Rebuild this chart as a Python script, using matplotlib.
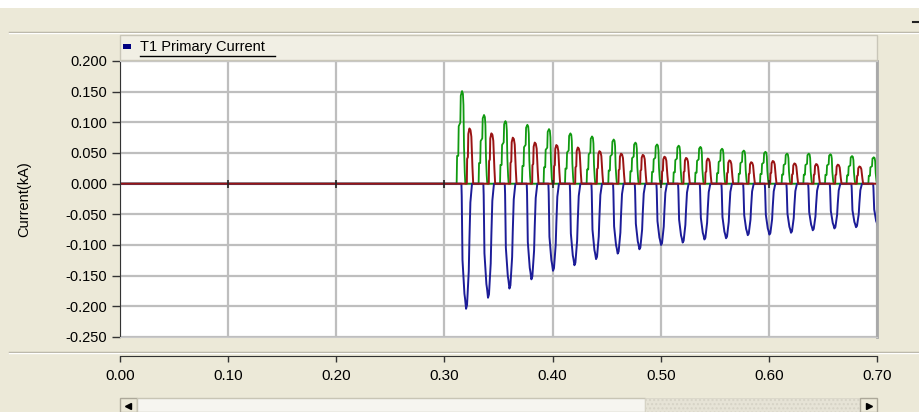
import matplotlib
matplotlib.use('Agg')
import matplotlib.pyplot as plt
import numpy as np
from matplotlib.patches import Rectangle
from matplotlib.lines import Line2D

# ================= data =================
# time of the green (phase A) peak in each cycle after energising (s)
CYCLE_T = [0.3163, 0.3366, 0.3564, 0.3767, 0.3967, 0.4165, 0.4365, 0.4565, 0.4766, 0.4966,
           0.5166, 0.5367, 0.5567, 0.5768, 0.5968, 0.6168, 0.6369, 0.6569, 0.6769, 0.6970]

# peak current per cycle (kA)
GREEN_PEAK = [0.151, 0.112, 0.102, 0.096, 0.089, 0.082, 0.077, 0.072, 0.067, 0.064,
              0.062, 0.060, 0.057, 0.054, 0.052, 0.049, 0.049, 0.048, 0.045, 0.043]
RED_PEAK = [0.090, 0.082, 0.075, 0.067, 0.063, 0.059, 0.053, 0.049, 0.047, 0.044,
            0.042, 0.041, 0.038, 0.035, 0.037, 0.033, 0.032, 0.031, 0.028, 0.027]
BLUE_PEAK = [-0.204, -0.186, -0.171, -0.156, -0.142, -0.133, -0.123, -0.114, -0.107, -0.100,
             -0.096, -0.091, -0.089, -0.084, -0.083, -0.080, -0.076, -0.073, -0.071, -0.069]

# pulse shape of one cycle: offset from green peak (ms) and normalised height
GREEN_DT = [-5.0, -4.6, -3.5, -3.1, -1.6, -1.2, 0.0, 0.8, 1.3, 1.8, 2.5, 3.0]
GREEN_SHAPE = [0, 0.30, 0.30, 0.62, 0.66, 0.95, 1.0, 0.97, 0.85, 0.40, 0.12, 0]
BLUE_DT = [-0.6, -0.3, 0.0, 0.4, 2.2, 2.8, 3.7, 4.6, 6.2, 6.8, 7.7, 9.2]
BLUE_SHAPE = [0, 0.10, 0.30, 0.61, 0.88, 0.92, 1.0, 0.97, 0.70, 0.45, 0.15, 0]
RED_DT = [4.4, 4.7, 5.4, 5.8, 6.8, 7.8, 8.6, 9.2, 9.6, 10.3]
RED_SHAPE = [0, 0.45, 0.48, 0.90, 1.0, 0.97, 0.85, 0.50, 0.30, 0]

XTICKS = [0.0, 0.1, 0.2, 0.3, 0.4, 0.5, 0.6, 0.7]
YTICKS = [0.2, 0.15, 0.1, 0.05, 0.0, -0.05, -0.1, -0.15, -0.2, -0.25]
TITLE = 'T1 Primary Current'
# =============================================================

W, H = 920, 412
BG = '#ECE9D8'


def fx(px):
    return px / W


def fy(py):
    return 1 - py / H


def build_trace(peaks, dt, shape):
    t = [0.0]
    v = [0.0]
    for tc, pk in zip(CYCLE_T, peaks):
        for d, s in zip(dt, shape):
            t.append(tc + d / 1000.0)
            v.append(pk * s)
    t.append(0.75)
    v.append(0.0)
    return np.array(t), np.array(v)


fig = plt.figure(figsize=(W / 100, H / 100), dpi=100, facecolor=BG)

# window chrome
fig.patches.append(Rectangle((0, fy(8)), 1, 8 / H, transform=fig.transFigure,
                             facecolor='white', edgecolor='none'))
fig.lines.append(Line2D([fx(9), 1], [fy(32), fy(32)], transform=fig.transFigure,
                        color='#ACA899', lw=1))
fig.lines.append(Line2D([fx(9), 1], [fy(33), fy(33)], transform=fig.transFigure,
                        color='white', lw=1))
fig.lines.append(Line2D([fx(913), 1], [fy(22), fy(22)], transform=fig.transFigure,
                        color='#222222', lw=1.5))
fig.lines.append(Line2D([fx(9), 1], [fy(352), fy(352)], transform=fig.transFigure,
                        color='#ACA899', lw=1))
fig.lines.append(Line2D([fx(9), 1], [fy(353), fy(353)], transform=fig.transFigure,
                        color='white', lw=1))

# legend bar
fig.patches.append(Rectangle((fx(120), fy(60)), fx(757), 25 / H, transform=fig.transFigure,
                             facecolor='#F1EFE4', edgecolor='#C9C6B8', lw=1))
fig.patches.append(Rectangle((fx(123), fy(49)), fx(8), 5 / H, transform=fig.transFigure,
                             facecolor='#000080', edgecolor='none'))
fig.text(fx(140), fy(47), TITLE, fontsize=10.5, family='Liberation Sans',
         va='center', ha='left', color='black')
fig.lines.append(Line2D([fx(140), fx(275)], [fy(56), fy(56)], transform=fig.transFigure,
                        color='black', lw=1))

# plot area
ax = fig.add_axes([fx(120), fy(337), fx(757), 276 / H])
ax.set_facecolor('white')
ax.set_xlim(0, 0.7)
ax.set_ylim(-0.25, 0.2)
ax.set_xticks(XTICKS)
ax.set_yticks(YTICKS)
ax.set_yticklabels([f'{v:.3f}' for v in YTICKS], fontsize=10.5, family='Liberation Sans')
ax.tick_params(axis='x', length=0, labelbottom=False)
ax.tick_params(axis='y', direction='out', length=6, width=1, pad=3, color='#333333')
ax.grid(True, color='#BEBEBE', lw=1.6)
ax.set_axisbelow(True)
for side in ['top', 'bottom']:
    ax.spines[side].set_color('#C8C8C8')
ax.spines['right'].set_color('#A8A8A8')
ax.spines['right'].set_linewidth(2)
ax.spines['left'].set_color('#333333')

tg, vg = build_trace(GREEN_PEAK, GREEN_DT, GREEN_SHAPE)
tb, vb = build_trace(BLUE_PEAK, BLUE_DT, BLUE_SHAPE)
tr, vr = build_trace(RED_PEAK, RED_DT, RED_SHAPE)
ax.plot(tg, vg, color='#109A10', lw=1.3)
ax.plot(tb, vb, color='#1C1C98', lw=1.4)
ax.plot(tr, vr, color='#9A1414', lw=1.4)
ax.plot(XTICKS[1:-1], np.zeros(len(XTICKS) - 2), '|', color='#222222', ms=6, mew=1.2)

fig.text(fx(24), fy(199), 'Current(kA)', rotation=90, fontsize=10.5,
         family='Liberation Sans', va='center', ha='center')

# separate time axis below the plot
axx = fig.add_axes([fx(120), fy(356), fx(757), 0.0001])
axx.set_xlim(0, 0.7)
axx.set_xticks(XTICKS)
axx.set_xticklabels([f'{v:.2f}' for v in XTICKS], fontsize=11,
                    family=['Liberation Sans Narrow', 'Liberation Sans'])
axx.set_yticks([])
axx.patch.set_alpha(0)
for side in ['top', 'left', 'right']:
    axx.spines[side].set_visible(False)
axx.spines['bottom'].set_color('#333333')
axx.tick_params(axis='x', direction='out', length=4, width=1, pad=5, color='#333333')

# scroll bar
fig.patches.append(Rectangle((fx(120), fy(412)), fx(17), 14 / H, transform=fig.transFigure,
                             facecolor=BG, edgecolor='#ACA899', lw=1))
fig.patches.append(Rectangle((fx(137), fy(412)), fx(508), 14 / H, transform=fig.transFigure,
                             facecolor='#F6F5F0', edgecolor='#C8C5B5', lw=1))
fig.patches.append(Rectangle((fx(645), fy(412)), fx(215), 14 / H, transform=fig.transFigure,
                             facecolor='#E6E3D6', edgecolor='#D6D3C6', lw=0.5, hatch='....'))
fig.patches.append(Rectangle((fx(860), fy(412)), fx(17), 14 / H, transform=fig.transFigure,
                             facecolor=BG, edgecolor='#ACA899', lw=1))
fig.lines.append(Line2D([fx(128)], [fy(406)], transform=fig.transFigure,
                        marker='<', color='black', ms=4, ls='none'))
fig.lines.append(Line2D([fx(869)], [fy(406)], transform=fig.transFigure,
                        marker='>', color='black', ms=4, ls='none'))

fig.savefig('out.png', dpi=100, facecolor=BG)
